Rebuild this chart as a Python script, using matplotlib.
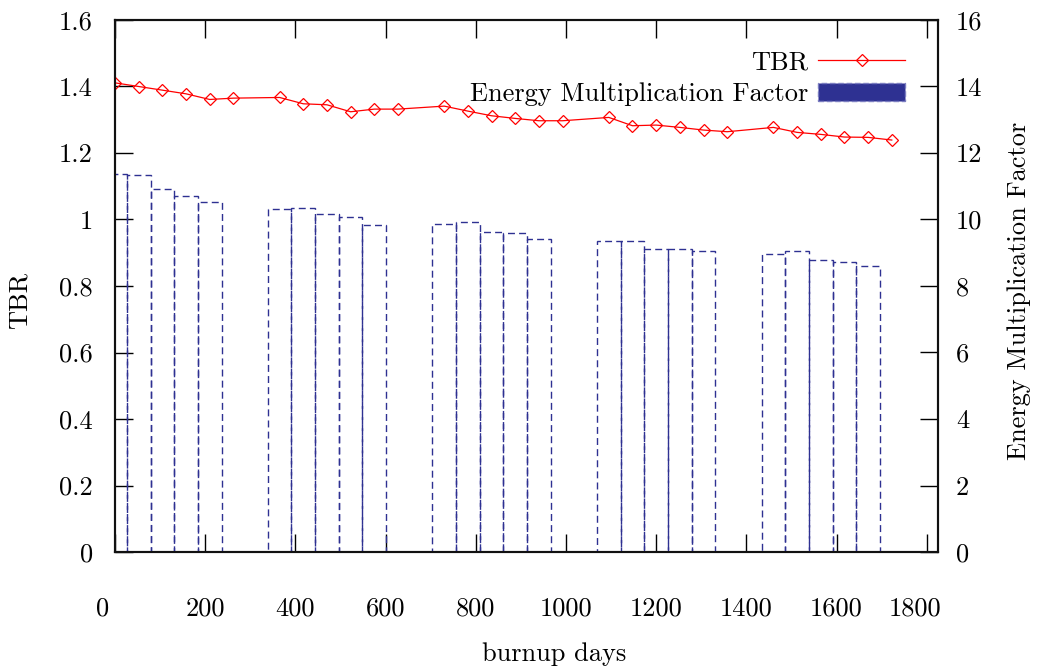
import matplotlib
matplotlib.use("Agg")

import matplotlib.pyplot as plt
import matplotlib.patches as mpatches
from matplotlib.lines import Line2D
from matplotlib.ticker import FuncFormatter, MultipleLocator
from matplotlib.transforms import ScaledTranslation

# burnup day of each step (6 steps per yearly cycle, the last one is the shutdown)
BURNUP_DAYS = [
    0, 52.5, 105, 157.5, 210, 262.5,
    365, 417.5, 470, 522.5, 575, 627.5,
    730, 782.5, 835, 887.5, 940, 992.5,
    1095, 1147.5, 1200, 1252.5, 1305, 1357.5,
    1460, 1512.5, 1565, 1617.5, 1670, 1722.5,
]

TBR = [
    1.411, 1.400, 1.389, 1.378, 1.361, 1.365,
    1.367, 1.348, 1.345, 1.324, 1.332, 1.332,
    1.341, 1.326, 1.312, 1.304, 1.297, 1.297,
    1.307, 1.282, 1.284, 1.277, 1.269, 1.264,
    1.277, 1.262, 1.256, 1.248, 1.247, 1.239,
]

ENERGY_MULT = [
    11.36, 11.34, 10.92, 10.72, 10.53, 0.0,
    10.31, 10.34, 10.17, 10.07, 9.83, 0.0,
    9.86, 9.92, 9.62, 9.60, 9.41, 0.0,
    9.35, 9.35, 9.10, 9.12, 9.05, 0.0,
    8.95, 9.05, 8.78, 8.73, 8.61, 0.0,
]

STEP_WIDTH = 52.5  # days, boxes touch each other

RED = "#ff0000"
NAVY = "#2e3192"
FONT_SIZE = 19

plt.rcParams.update({
    "font.family": "cmr10",
    "axes.formatter.use_mathtext": True,
    "font.size": FONT_SIZE,
})


def gnu_fmt(v, _pos):
    return f"{v:g}"


fig = plt.figure(figsize=(10.38, 6.68), dpi=100)
ax = fig.add_axes([115 / 1038, 116 / 668, 823 / 1038, 532 / 668])
ax2 = ax.twinx()

# ---------- energy multiplication boxes (right axis) ----------
ax2.bar(
    BURNUP_DAYS, ENERGY_MULT, width=STEP_WIDTH,
    fill=False, edgecolor=NAVY, linewidth=1.0,
    linestyle=(0, (5, 3)), zorder=2,
)

# ---------- TBR line (left axis) ----------
ax.plot(
    BURNUP_DAYS, TBR, color=RED, linewidth=0.9,
    marker="D", markersize=6.2, markerfacecolor="none",
    markeredgecolor=RED, markeredgewidth=0.9, zorder=3,
)

ax.set_xlim(0, 1825)
ax.set_ylim(0, 1.6)
ax2.set_ylim(0, 16)

ax.xaxis.set_major_locator(MultipleLocator(200))
ax.yaxis.set_major_locator(MultipleLocator(0.2))
ax2.yaxis.set_major_locator(MultipleLocator(2))
for a in (ax.xaxis, ax.yaxis, ax2.yaxis):
    a.set_major_formatter(FuncFormatter(gnu_fmt))

ax.tick_params(axis="x", direction="in", length=13, width=1.0,
               top=True, bottom=True, pad=32, labelsize=FONT_SIZE)
ax.tick_params(axis="y", direction="in", length=13, width=1.0,
               left=True, right=False, pad=16, labelsize=FONT_SIZE)
ax2.tick_params(axis="y", direction="in", length=13, width=1.0,
                left=False, right=True, pad=13, labelsize=FONT_SIZE)

# the end labels of the x axis are nudged left in the original
fig.canvas.draw()
nudge = ScaledTranslation(-12 / 100, 0, fig.dpi_scale_trans)
for lbl in ax.get_xticklabels():
    if lbl.get_text() in ("0", "1800"):
        lbl.set_transform(lbl.get_transform() + nudge)

for a in (ax, ax2):
    for sp in a.spines.values():
        sp.set_linewidth(1.5)
        sp.set_color("#111111")

ax.set_xlabel("burnup days", fontsize=FONT_SIZE, labelpad=16)
ax.set_ylabel("TBR", fontsize=FONT_SIZE, labelpad=20)
ax2.set_ylabel("Energy Multiplication Factor", fontsize=FONT_SIZE, labelpad=18)
# labels sit a little off-centre in the original
ax.xaxis.label.set_x(0.533)
ax.yaxis.label.set_y(0.472)
ax2.yaxis.label.set_y(0.491)

# ---------- legend ----------
tbr_handle = Line2D([], [], color=RED, linewidth=0.9, marker="D",
                    markersize=6.2, markerfacecolor="none",
                    markeredgecolor=RED, markeredgewidth=0.9)
emf_handle = mpatches.Patch(facecolor=NAVY, edgecolor="#7a7cc0",
                            linestyle=(0, (4, 2)), linewidth=1.0)
ax2.legend(
    [tbr_handle, emf_handle], ["TBR", "Energy Multiplication Factor"],
    loc="upper right", bbox_to_anchor=(0.960, 0.942),
    frameon=False, markerfirst=False, numpoints=1,
    handlelength=3.3, handletextpad=0.38, labelspacing=0.3,
    borderpad=0, borderaxespad=0, fontsize=FONT_SIZE,
)

fig.savefig("out.png", dpi=100, facecolor="white")
plt.close(fig)
